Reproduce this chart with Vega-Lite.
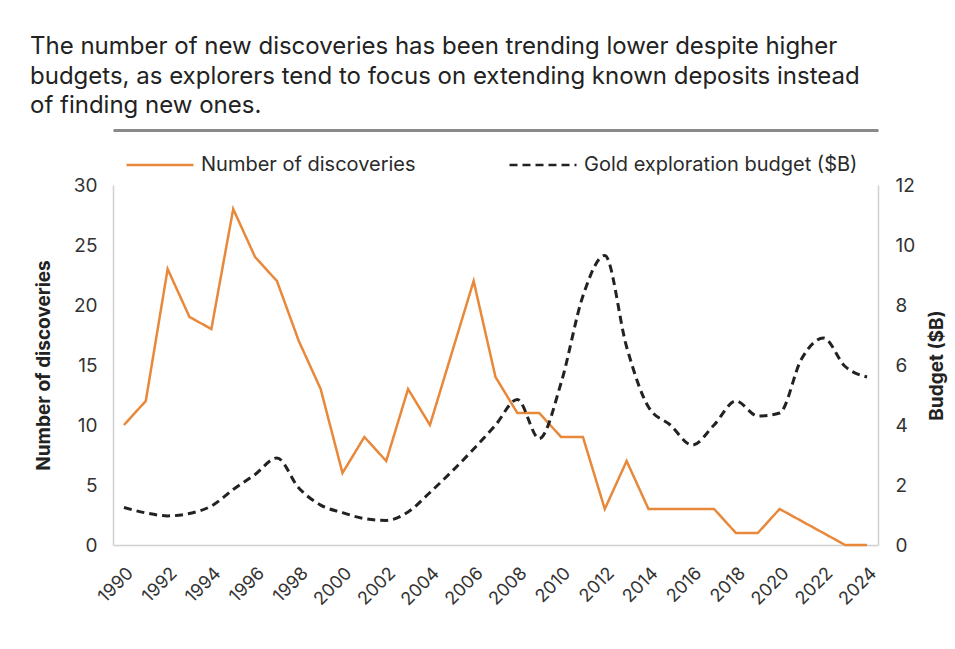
{
  "$schema": "https://vega.github.io/schema/vega-lite/v6.json",
  "width": 765,
  "height": 360,
  "autosize": {"type": "none"},
  "padding": {"left": 113, "top": 185, "right": 77, "bottom": 104},
  "background": "white",
  "config": {
    "font": "Inter",
    "view": {"stroke": null},
    "legend": {
      "orient": "none",
      "legendX": 12,
      "legendY": -55,
      "direction": "horizontal",
      "title": null,
      "labelFontSize": 20,
      "labelColor": "#2a2a2a",
      "labelLimit": 0,
      "symbolType": "stroke",
      "symbolSize": 4489,
      "symbolStrokeWidth": 2.5,
      "labelOffset": 6,
      "columnPadding": 88
    }
  },
  "title": {
    "text": [
      "The number of new discoveries has been trending lower despite higher",
      "budgets, as explorers tend to focus on extending known deposits instead",
      "of finding new ones."
    ],
    "anchor": "start",
    "frame": "group",
    "dx": -83,
    "offset": 12,
    "fontSize": 24,
    "fontWeight": "normal",
    "color": "#222222",
    "lineHeight": 29.5
  },
  "data": {
    "values": [
      {"year": 1990, "discoveries": 10, "budget": 1.25},
      {"year": 1991, "discoveries": 12, "budget": 1.07},
      {"year": 1992, "discoveries": 23, "budget": 0.97},
      {"year": 1993, "discoveries": 19, "budget": 1.05},
      {"year": 1994, "discoveries": 18, "budget": 1.3},
      {"year": 1995, "discoveries": 28, "budget": 1.85},
      {"year": 1996, "discoveries": 24, "budget": 2.35},
      {"year": 1997, "discoveries": 22, "budget": 2.9},
      {"year": 1998, "discoveries": 17, "budget": 1.9},
      {"year": 1999, "discoveries": 13, "budget": 1.33},
      {"year": 2000, "discoveries": 6, "budget": 1.08},
      {"year": 2001, "discoveries": 9, "budget": 0.88},
      {"year": 2002, "discoveries": 7, "budget": 0.82},
      {"year": 2003, "discoveries": 13, "budget": 1.1},
      {"year": 2004, "discoveries": 10, "budget": 1.75},
      {"year": 2005, "discoveries": 16, "budget": 2.45},
      {"year": 2006, "discoveries": 22, "budget": 3.2},
      {"year": 2007, "discoveries": 14, "budget": 4.0},
      {"year": 2008, "discoveries": 11, "budget": 4.85},
      {"year": 2009, "discoveries": 11, "budget": 3.55},
      {"year": 2010, "discoveries": 9, "budget": 5.4},
      {"year": 2011, "discoveries": 9, "budget": 8.3},
      {"year": 2012, "discoveries": 3, "budget": 9.65},
      {"year": 2013, "discoveries": 7, "budget": 6.6},
      {"year": 2014, "discoveries": 3, "budget": 4.6},
      {"year": 2015, "discoveries": 3, "budget": 4.0},
      {"year": 2016, "discoveries": 3, "budget": 3.33},
      {"year": 2017, "discoveries": 3, "budget": 4.0},
      {"year": 2018, "discoveries": 1, "budget": 4.8},
      {"year": 2019, "discoveries": 1, "budget": 4.3},
      {"year": 2020, "discoveries": 3, "budget": 4.4},
      {"year": 2021, "discoveries": 2, "budget": 6.2},
      {"year": 2022, "discoveries": 1, "budget": 6.9},
      {"year": 2023, "discoveries": 0, "budget": 5.95},
      {"year": 2024, "discoveries": 0, "budget": 5.6}
    ]
  },
  "transform": [{"fold": ["discoveries", "budget"], "as": ["series", "value"]}],
  "layer": [
    {
      "transform": [{"filter": "datum.series == 'discoveries'"}],
      "mark": {"type": "line", "strokeWidth": 2.5},
      "encoding": {
        "x": {
          "field": "year",
          "type": "quantitative",
          "scale": {"domain": [1989.5, 2024.5], "nice": false, "zero": false},
          "axis": {
            "title": null,
            "values": [1990, 1992, 1994, 1996, 1998, 2000, 2002, 2004, 2006, 2008, 2010, 2012, 2014, 2016, 2018, 2020, 2022, 2024],
            "format": "d",
            "labelAngle": -45,
            "labelFontSize": 18,
            "labelColor": "#333333",
            "labelPadding": 19,
            "labelOverlap": false,
            "labelBound": false,
            "ticks": false,
            "grid": false,
            "domainColor": "#d0d0d0",
            "domainWidth": 1.5
          }
        },
        "y": {
          "field": "value",
          "type": "quantitative",
          "scale": {"domain": [0, 30], "nice": false},
          "axis": {
            "title": "Number of discoveries",
            "titleFontSize": 19,
            "titleFontWeight": "bold",
            "titleColor": "#222222",
            "titlePadding": 20,
            "values": [0, 5, 10, 15, 20, 25, 30],
            "labelFontSize": 19,
            "labelColor": "#333333",
            "labelPadding": 16,
            "ticks": false,
            "grid": false,
            "domainColor": "#d0d0d0",
            "domainWidth": 1.5
          }
        },
        "color": {
          "field": "series",
          "type": "nominal",
          "scale": {"domain": ["discoveries", "budget"], "range": ["#E8883A", "#222222"]},
          "legend": {"labelExpr": "datum.label == 'discoveries' ? 'Number of discoveries' : 'Gold exploration budget ($B)'"}
        },
        "strokeDash": {
          "field": "series",
          "type": "nominal",
          "scale": {"domain": ["discoveries", "budget"], "range": [[1, 0], [8, 5]]},
          "legend": {"labelExpr": "datum.label == 'discoveries' ? 'Number of discoveries' : 'Gold exploration budget ($B)'"}
        }
      }
    },
    {
      "transform": [{"filter": "datum.series == 'budget'"}],
      "mark": {"type": "line", "strokeWidth": 3, "interpolate": "monotone"},
      "encoding": {
        "x": {
          "field": "year",
          "type": "quantitative",
          "scale": {"domain": [1989.5, 2024.5], "nice": false, "zero": false},
          "axis": {
            "orient": "top",
            "title": null,
            "labels": false,
            "ticks": false,
            "grid": false,
            "domainColor": "#8a8a8a",
            "domainWidth": 3,
            "offset": 55
          }
        },
        "y": {
          "field": "value",
          "type": "quantitative",
          "scale": {"domain": [0, 12], "nice": false},
          "axis": {
            "orient": "right",
            "title": "Budget ($B)",
            "titleAngle": -90,
            "titleFontSize": 19,
            "titleFontWeight": "bold",
            "titleColor": "#222222",
            "titlePadding": 32,
            "values": [0, 2, 4, 6, 8, 10, 12],
            "labelFontSize": 19,
            "labelColor": "#333333",
            "labelPadding": 17,
            "ticks": false,
            "grid": false,
            "domainColor": "#d0d0d0",
            "domainWidth": 1.5
          }
        },
        "color": {
          "field": "series",
          "type": "nominal",
          "scale": {"domain": ["discoveries", "budget"], "range": ["#E8883A", "#222222"]},
          "legend": {"labelExpr": "datum.label == 'discoveries' ? 'Number of discoveries' : 'Gold exploration budget ($B)'"}
        },
        "strokeDash": {
          "field": "series",
          "type": "nominal",
          "scale": {"domain": ["discoveries", "budget"], "range": [[1, 0], [8, 5]]},
          "legend": {"labelExpr": "datum.label == 'discoveries' ? 'Number of discoveries' : 'Gold exploration budget ($B)'"}
        }
      }
    }
  ],
  "resolve": {"scale": {"y": "independent"}, "axis": {"x": "independent"}}
}
